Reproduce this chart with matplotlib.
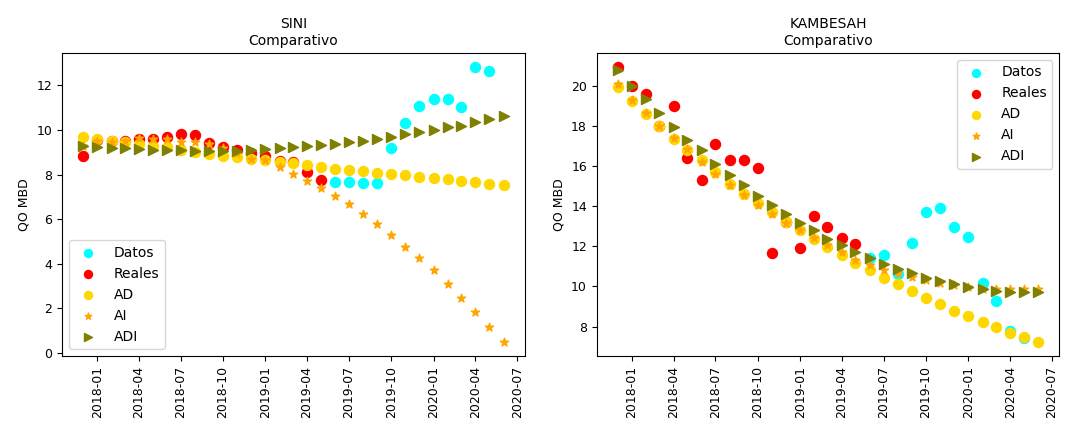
import numpy as np
import pandas as pd
import matplotlib
matplotlib.use("Agg")
import matplotlib.pyplot as plt
import matplotlib.dates as mdates

# monthly dates, 2017-12 .. 2020-06
fechas = pd.date_range("2017-12-01", "2020-06-01", freq="MS")

# SINI
sini_reales = [8.83, 9.55, 9.50, 9.50, 9.58, 9.60, 9.67, 9.82, 9.78, 9.40, 9.25, 9.10,
               8.95, 8.83, 8.60, 8.55, 8.10, 7.76]
sini_datos = [7.68, 7.66, 7.62, 7.62, 9.18, 10.32, 11.08, 11.39, 11.39, 11.02, 12.84, 12.65]
sini_ad = [9.67, 9.61, 9.52, 9.45, 9.38, 9.30, 9.22, 9.12, 9.02, 8.93, 8.82, 8.77, 8.71,
           8.65, 8.58, 8.52, 8.42, 8.34, 8.27, 8.21, 8.15, 8.09, 8.02, 7.97, 7.91, 7.84,
           7.78, 7.72, 7.66, 7.60, 7.54]
sini_ai = [9.30, 9.50, 9.48, 9.51, 9.63, 9.58, 9.58, 9.48, 9.45, 9.39, 9.20, 8.95, 8.68,
           8.65, 8.35, 8.04, 7.72, 7.40, 7.04, 6.67, 6.22, 5.78, 5.29, 4.77, 4.28, 3.72,
           3.09, 2.48, 1.85, 1.18, 0.48]
sini_adi = [9.28, 9.22, 9.21, 9.17, 9.15, 9.12, 9.10, 9.09, 9.08, 9.07, 9.07, 9.07, 9.10,
            9.14, 9.20, 9.25, 9.27, 9.33, 9.39, 9.45, 9.52, 9.61, 9.70, 9.82, 9.90, 10.00,
            10.12, 10.20, 10.34, 10.50, 10.64]

# KAMBESAH
kamb_reales = [20.94, 20.00, 19.59, 18.00, 18.96, 16.39, 15.28, 17.10, 16.27, 16.27, 15.91,
               11.64, 13.20, 11.92, 13.51, 12.96, 12.42, 12.09]
kamb_datos = [11.40, 11.57, 10.62, 12.14, 13.71, 13.92, 12.96, 12.47, 10.15, 9.29, 7.78, 7.42]
kamb_ad = [19.92, 19.22, 18.59, 17.98, 17.35, 16.80, 16.27, 15.70, 15.12, 14.59, 14.16,
           13.68, 13.21, 12.80, 12.38, 11.97, 11.56, 11.19, 10.81, 10.43, 10.10, 9.77,
           9.44, 9.12, 8.79, 8.53, 8.24, 7.96, 7.70, 7.47, 7.22]
kamb_ai = [20.08, 19.29, 18.64, 18.01, 17.40, 16.82, 16.19, 15.61, 15.03, 14.54, 14.04,
           13.59, 13.18, 12.80, 12.43, 12.05, 11.69, 11.34, 11.06, 10.84, 10.65, 10.45,
           10.31, 10.18, 10.07, 9.95, 9.87, 9.85, 9.85, 9.85, 9.85]
kamb_adi = [20.75, 20.00, 19.34, 18.63, 17.93, 17.30, 16.77, 16.11, 15.56, 15.03, 14.50,
            14.04, 13.63, 13.16, 12.80, 12.38, 12.05, 11.72, 11.39, 11.11, 10.86, 10.65,
            10.43, 10.26, 10.10, 9.95, 9.85, 9.77, 9.70, 9.70, 9.70]

pozos = [("SINI", sini_datos, sini_reales, sini_ad, sini_ai, sini_adi, "lower left"),
         ("KAMBESAH", kamb_datos, kamb_reales, kamb_ad, kamb_ai, kamb_adi, "upper right")]

plt.rcParams["font.size"] = 9

fig, axs = plt.subplots(1, 2, figsize=(10.7, 4.3), dpi=100)
fig.subplots_adjust(left=0.058, right=0.99, top=0.877, bottom=0.172, wspace=0.156)

s = 52
for ax, (nombre, datos, reales, ad, ai, adi, loc) in zip(axs, pozos):
    n_r = len(reales)
    ax.scatter(fechas[n_r:n_r + len(datos)], datos, c="aqua", s=s, label="Datos")
    ax.scatter(fechas[:n_r], reales, c="red", s=s, label="Reales")
    ax.scatter(fechas, ad, c="gold", s=s, label="AD")
    ax.scatter(fechas, ai, c="orange", marker="*", s=38, label="AI")
    ax.scatter(fechas, adi, c="olive", marker=">", s=s, label="ADI")
    ax.set_title(nombre + "\nComparativo", fontsize=10)
    ax.set_ylabel("QO MBD")
    ax.xaxis.set_major_locator(mdates.MonthLocator(bymonth=[1, 4, 7, 10]))
    ax.xaxis.set_major_formatter(mdates.DateFormatter("%Y-%m"))
    ax.tick_params(axis="x", labelrotation=90)
    ax.legend(loc=loc, fontsize=10, markerscale=0.8)

fig.savefig("out.png")
